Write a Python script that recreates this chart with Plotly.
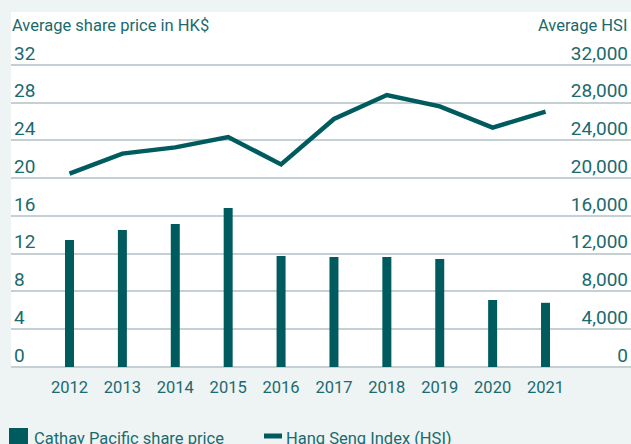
import plotly.graph_objects as go

years = ["2012", "2013", "2014", "2015", "2016", "2017", "2018", "2019", "2020", "2021"]
share_price = [13.45, 14.5, 15.15, 16.85, 11.75, 11.65, 11.65, 11.45, 7.1, 6.8]
hsi = [20480, 22600, 23260, 24360, 21460, 26270, 28810, 27600, 25350, 27040]
left_ticks = [0, 4, 8, 12, 16, 20, 24, 28, 32]
right_ticks = [0, 4000, 8000, 12000, 16000, 20000, 24000, 28000, 32000]

TEAL = "#005b5f"
TEXT = "#1b6a6e"
GRID = "#c4d0d3"
BG = "#eef3f4"
FONT = "Roboto"

W, H = 631, 444
ML, MR, MT, MB = 11, 0, 12, 77
PW, PH = W - ML - MR, H - MT - MB

def px(x):
    return (x - ML) / PW

def py(y):
    return (H - MB - y) / PH

fig = go.Figure()
fig.add_trace(go.Bar(x=years, y=share_price, marker=dict(color=TEAL, line=dict(width=0)),
                     width=0.17, name="Cathay Pacific share price", showlegend=False))
fig.add_trace(go.Scatter(x=years, y=hsi, mode="lines", yaxis="y2",
                         line=dict(color=TEAL, width=4.5),
                         name="Hang Seng Index (HSI)", showlegend=False))

fig.update_layout(
    width=W, height=H,
    margin=dict(l=ML, r=MR, t=MT, b=MB, autoexpand=False),
    paper_bgcolor=BG, plot_bgcolor="white",
    font=dict(family=FONT, color=TEXT, size=16.5),
    xaxis=dict(type="category", range=[-1.106, 10.616], showgrid=False, zeroline=False,
               showline=False, ticks="", ticklabelstandoff=8,
               tickfont=dict(size=16.5, color=TEXT), fixedrange=True),
    yaxis=dict(range=[0, 37.6], tickvals=left_ticks, showgrid=True, gridcolor=GRID, gridwidth=2,
               zeroline=True, zerolinecolor=GRID, zerolinewidth=2, showline=False,
               ticks="", ticklabelposition="inside", ticklabelshift=-12,
               tickfont=dict(size=19, color=TEXT)),
    yaxis2=dict(range=[0, 37600], tickvals=right_ticks, tickformat=",", overlaying="y", side="right",
                showgrid=False, zeroline=False, showline=False, ticks="",
                ticklabelposition="inside", ticklabelshift=-12,
                tickfont=dict(size=19, color=TEXT)),
    showlegend=False,
)

annotations = [
    dict(text="Average share price in HK$", xref="paper", yref="paper", x=px(10), y=py(26),
         xanchor="left", yanchor="middle", showarrow=False, font=dict(size=16.5, color=TEXT)),
    dict(text="Average HSI", xref="paper", yref="paper", x=px(629), y=py(26),
         xanchor="right", yanchor="middle", showarrow=False, font=dict(size=16.5, color=TEXT)),
    dict(text="Cathay Pacific share price", xref="paper", yref="paper", x=px(32), y=py(438),
         xanchor="left", yanchor="middle", showarrow=False, font=dict(size=16.5, color=TEXT)),
    dict(text="Hang Seng Index (HSI)", xref="paper", yref="paper", x=px(284), y=py(438),
         xanchor="left", yanchor="middle", showarrow=False, font=dict(size=16.5, color=TEXT)),
]
shapes = [
    dict(type="rect", xref="paper", yref="paper", x0=px(9), x1=px(28), y0=py(448), y1=py(428),
         fillcolor=TEAL, line=dict(width=0)),
    dict(type="line", xref="paper", yref="paper", x0=px(264), x1=px(282), y0=py(436), y1=py(436),
         line=dict(color=TEAL, width=5)),
]
fig.update_layout(annotations=annotations, shapes=shapes)

fig.write_html("out.html", config={"displayModeBar": False},
               post_script="document.body.style.margin='0';document.body.style.overflow='hidden';")
